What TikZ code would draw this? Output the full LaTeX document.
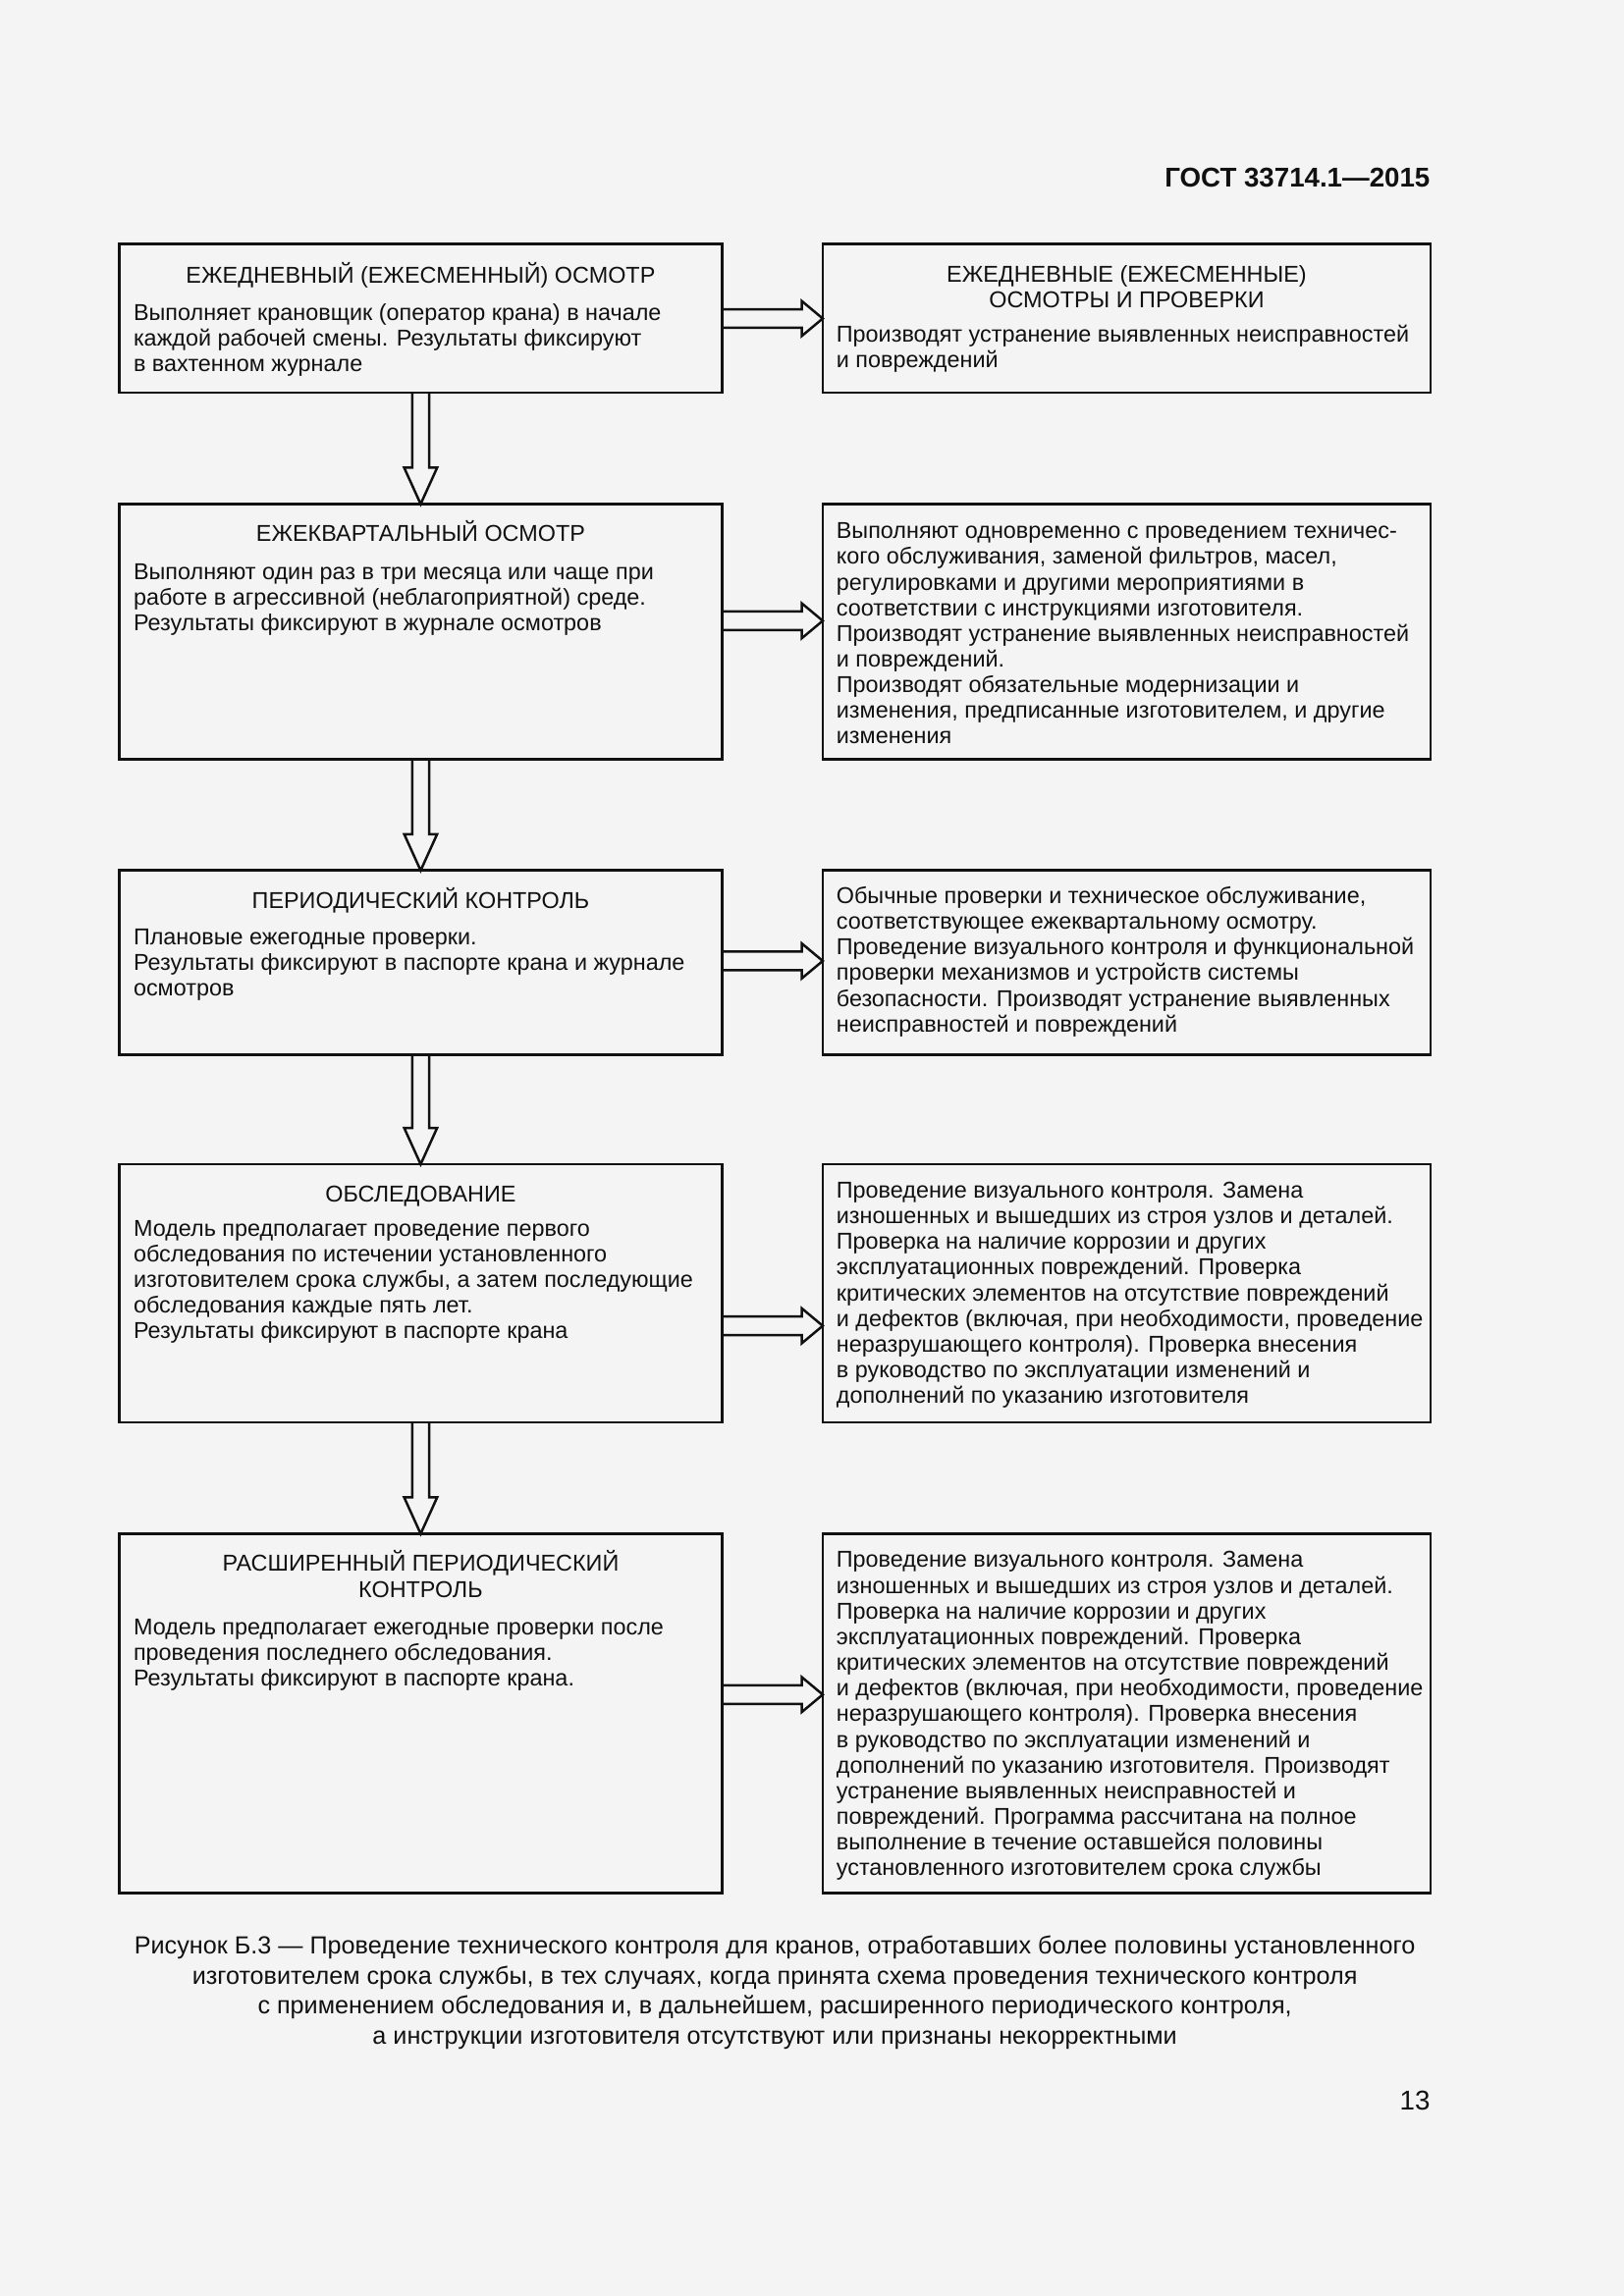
\documentclass[tikz,border=0pt]{standalone}
\usepackage{fontspec}
\setmainfont{Liberation Sans}
\usetikzlibrary{calc}
\definecolor{bg}{HTML}{F4F4F4}
\definecolor{ink}{HTML}{111111}
\newcommand\mystrt{\rule{0pt}{3mm}}
\newcommand\harr[3]{\draw[arr] ($(#1.east |- #3)+(0,-1.2)$) -- ($(#2.west |- #3)+(-2.7,-1.2)$) -- ($(#2.west |- #3)+(-2.7,-2.25)$) -- (#2.west |- #3) -- ($(#2.west |- #3)+(-2.7,2.25)$) -- ($(#2.west |- #3)+(-2.7,1.2)$) -- ($(#1.east |- #3)+(0,1.2)$);}
\newcommand\varr[2]{\draw[arr] ($(#1.south)+(-1.1,0)$) -- ($(#2.north)+(-1.1,-4.7)$) -- ($(#2.north)+(-2.13,-4.7)$) -- (#2.north) -- ($(#2.north)+(2.13,-4.7)$) -- ($(#2.north)+(1.1,-4.7)$) -- ($(#1.south)+(1.1,0)$);}
\begin{document}
\begin{tikzpicture}[x=1mm,y=-1mm,
  box/.style={draw=ink, line width=1pt, rectangle, anchor=north west, inner sep=0pt, outer sep=0pt},
  lbox/.style={box, minimum width=77.96mm},
  rbox/.style={box, minimum width=78.6mm},
  ttl/.style={anchor=north, align=center, inner sep=0pt, text=ink, font=\fontsize{8.45}{9.45}\selectfont},
  bodytext/.style={anchor=north west, align=left, inner sep=0pt, text=ink, font=\fontsize{8.45}{9.45}\selectfont},
  arr/.style={draw=ink, line width=0.9pt, line join=miter}]
\fill[bg] (0,0) rectangle (210,297);
\useasboundingbox (0,0) rectangle (210,297);

% header
\node[anchor=base east, inner sep=0pt, text=ink, font=\fontsize{10}{12}\selectfont\bfseries] (hdr) at (185.0,24.2) {ГОСТ 33714.1—2015};

% boxes
\node[lbox, minimum height=19.2mm] (b1) at (15.42,31.6) {};
\node[rbox, minimum height=19.2mm] (r1) at (106.4,31.6) {};
\node[lbox, minimum height=33.0mm] (b2) at (15.42,65.2) {};
\node[rbox, minimum height=33.0mm] (r2) at (106.4,65.2) {};
\node[lbox, minimum height=23.8mm] (b3) at (15.42,112.6) {};
\node[rbox, minimum height=23.8mm] (r3) at (106.4,112.6) {};
\node[lbox, minimum height=33.4mm] (b4) at (15.42,150.6) {};
\node[rbox, minimum height=33.4mm] (r4) at (106.4,150.6) {};
\node[lbox, minimum height=46.5mm] (b5) at (15.42,198.4) {};
\node[rbox, minimum height=46.5mm] (r5) at (106.4,198.4) {};

% arrow levels
\coordinate (a1) at (0,41.2);
\coordinate (a2) at (0,80.3);
\coordinate (a3) at (0,124.3);
\coordinate (a4) at (0,171.5);
\coordinate (a5) at (0,219.2);

\harr{b1}{r1}{a1}
\harr{b2}{r2}{a2}
\harr{b3}{r3}{a3}
\harr{b4}{r4}{a4}
\harr{b5}{r5}{a5}
\varr{b1}{b2}
\varr{b2}{b3}
\varr{b3}{b4}
\varr{b4}{b5}

% texts box 1
\node[ttl] (t1) at (54.4,33.6) {\mystrt ЕЖЕДНЕВНЫЙ (ЕЖЕСМЕННЫЙ) ОСМОТР};
\node[bodytext] (x1) at (17.2,38.4) {\mystrt Выполняет крановщик (оператор крана) в начале\\
каждой рабочей смены. Результаты фиксируют\\
в вахтенном журнале};
\node[ttl] (tr1) at (145.7,33.4) {\mystrt ЕЖЕДНЕВНЫЕ (ЕЖЕСМЕННЫЕ)\\ОСМОТРЫ И ПРОВЕРКИ};
\node[bodytext] (xr1) at (108.1,41.2) {\mystrt Производят устранение выявленных неисправностей\\
и повреждений};

% box 2
\node[ttl] (t2) at (54.4,67.0) {\mystrt ЕЖЕКВАРТАЛЬНЫЙ ОСМОТР};
\node[bodytext] (x2) at (17.2,71.9) {\mystrt Выполняют один раз в три месяца или чаще при\\
работе в агрессивной (неблагоприятной) среде.\\
Результаты фиксируют в журнале осмотров};
\node[bodytext] (xr2) at (108.1,66.6) {\mystrt Выполняют одновременно с проведением техничес-\\
кого обслуживания, заменой фильтров, масел,\\
регулировками и другими мероприятиями в\\
соответствии с инструкциями изготовителя.\\
Производят устранение выявленных неисправностей\\
и повреждений.\\
Производят обязательные модернизации и\\
изменения, предписанные изготовителем, и другие\\
изменения};

% box 3
\node[ttl] (t3) at (54.4,114.4) {\mystrt ПЕРИОДИЧЕСКИЙ КОНТРОЛЬ};
\node[bodytext] (x3) at (17.2,119.1) {\mystrt Плановые ежегодные проверки.\\
Результаты фиксируют в паспорте крана и журнале\\
осмотров};
\node[bodytext] (xr3) at (108.1,113.8) {\mystrt Обычные проверки и техническое обслуживание,\\
соответствующее ежеквартальному осмотру.\\
Проведение визуального контроля и функциональной\\
проверки механизмов и устройств системы\\
безопасности. Производят устранение выявленных\\
неисправностей и повреждений};

% box 4
\node[ttl] (t4) at (54.4,152.4) {\mystrt ОБСЛЕДОВАНИЕ};
\node[bodytext] (x4) at (17.2,156.8) {\mystrt Модель предполагает проведение первого\\
обследования по истечении установленного\\
изготовителем срока службы, а затем последующие\\
обследования каждые пять лет.\\
Результаты фиксируют в паспорте крана};
\node[bodytext] (xr4) at (108.1,151.9) {\mystrt Проведение визуального контроля. Замена\\
изношенных и вышедших из строя узлов и деталей.\\
Проверка на наличие коррозии и других\\
эксплуатационных повреждений. Проверка\\
критических элементов на отсутствие повреждений\\
и дефектов (включая, при необходимости, проведение\\
неразрушающего контроля). Проверка внесения\\
в руководство по эксплуатации изменений и\\
дополнений по указанию изготовителя};

% box 5
\node[ttl] (t5) at (54.4,200.2) {\mystrt РАСШИРЕННЫЙ ПЕРИОДИЧЕСКИЙ\\КОНТРОЛЬ};
\node[bodytext] (x5) at (17.2,208.4) {\mystrt Модель предполагает ежегодные проверки после\\
проведения последнего обследования.\\
Результаты фиксируют в паспорте крана.};
\node[bodytext] (xr5) at (108.1,199.7) {\mystrt Проведение визуального контроля. Замена\\
изношенных и вышедших из строя узлов и деталей.\\
Проверка на наличие коррозии и других\\
эксплуатационных повреждений. Проверка\\
критических элементов на отсутствие повреждений\\
и дефектов (включая, при необходимости, проведение\\
неразрушающего контроля). Проверка внесения\\
в руководство по эксплуатации изменений и\\
дополнений по указанию изготовителя. Производят\\
устранение выявленных неисправностей и\\
повреждений. Программа рассчитана на полное\\
выполнение в течение оставшейся половины\\
установленного изготовителем срока службы};

% caption
\node[anchor=north, align=center, inner sep=0pt, text=ink, font=\fontsize{9.1}{11}\selectfont] (cap) at (100.2,249.7) {\mystrt Рисунок Б.3 — Проведение технического контроля для кранов, отработавших более половины установленного\\
изготовителем срока службы, в тех случаях, когда принята схема проведения технического контроля\\
с применением обследования и, в дальнейшем, расширенного периодического контроля,\\
а инструкции изготовителя отсутствуют или признаны некорректными};

% page number
\node[anchor=base east, inner sep=0pt, text=ink, font=\fontsize{10}{12}\selectfont] (pg) at (185.0,272.9) {13};
\end{tikzpicture}
\end{document}
